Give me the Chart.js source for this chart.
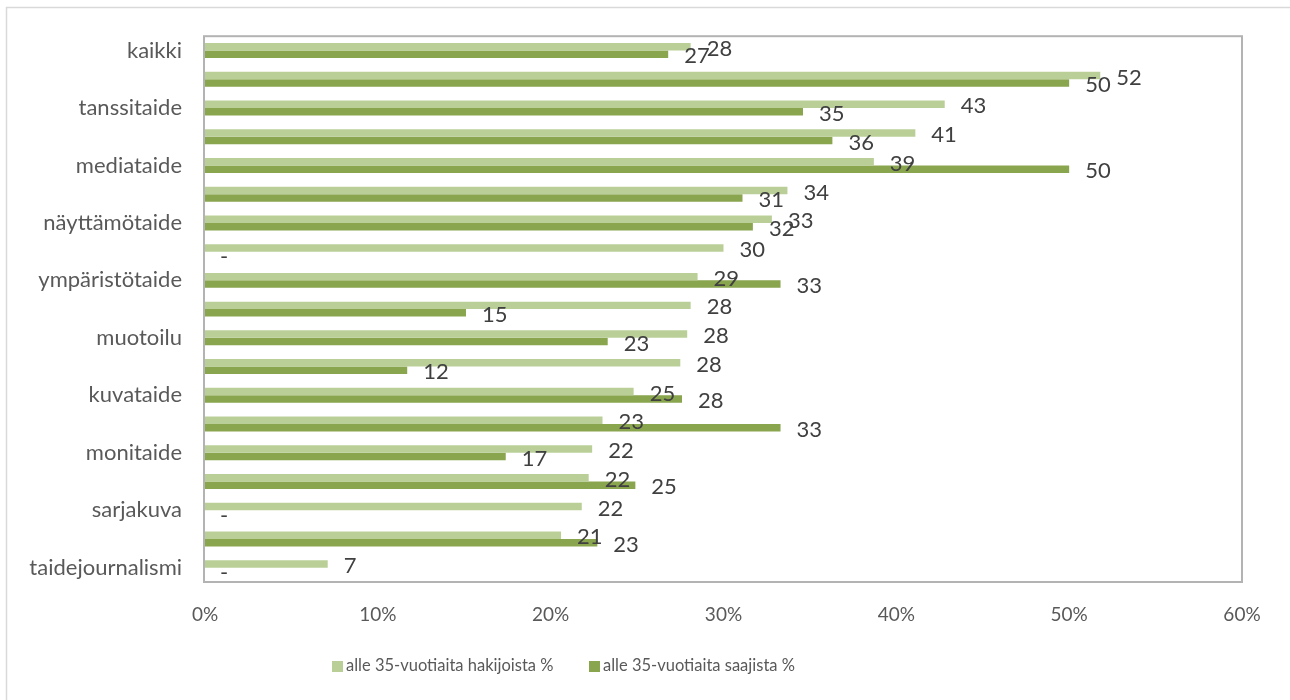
<!DOCTYPE html>
<html>
<head>
<meta charset="utf-8">
<script src="https://cdn.jsdelivr.net/npm/chart.js@4"></script>
<style>
 html, body { margin: 0; padding: 0; background: #fff; }
 #wrap { width: 1290px; height: 700px; position: relative; }
</style>
</head>
<body>
<div id="wrap"><canvas id="chart" width="1290" height="700"></canvas></div>
<script>
// every other category name is hidden in the original (Excel skipped them)
const categories = ['kaikki', '', 'tanssitaide', '', 'mediataide', '', 'näyttämötaide', '',
 'ympäristötaide', '', 'muotoilu', '', 'kuvataide', '', 'monitaide', '', 'sarjakuva', '', 'taidejournalismi'];
const seriesNames = ['alle 35-vuotiaita hakijoista %', 'alle 35-vuotiaita saajista %'];
const applicants = [28.1, 51.8, 42.8, 41.1, 38.7, 33.7, 32.8, 30.0, 28.5, 28.1,
 27.9, 27.5, 24.8, 23.0, 22.4, 22.2, 21.8, 20.6, 7.1];
const recipients = [26.8, 50.0, 34.6, 36.3, 50.0, 31.1, 31.7, null, 33.3, 15.1,
 23.3, 11.7, 27.6, 33.3, 17.4, 24.9, null, 22.7, null];
const xTicks = [0, 10, 20, 30, 40, 50, 60];

const lightGreen = '#bacf98';
const darkGreen = '#89a54e';
const font = 'Lato, "Open Sans", sans-serif';

const frame = {
 id: 'frame',
 beforeDraw(chart) {
  const ctx = chart.ctx;
  ctx.save();
  ctx.strokeStyle = '#d9d9d9';
  ctx.lineWidth = 1.5;
  ctx.strokeRect(6.5, 7.5, 1400, 800);
  ctx.restore();
 },
 afterDraw(chart) {
  const a = chart.chartArea, ctx = chart.ctx;
  ctx.save();
  ctx.strokeStyle = '#b3b3b3';
  ctx.lineWidth = 2;
  ctx.strokeRect(a.left - 1, a.top, a.right - a.left + 1, a.bottom - a.top);
  // legend
  const colors = [lightGreen, darkGreen];
  const xs = [332, 589];
  ctx.font = '16.5px ' + font;
  ctx.textBaseline = 'middle';
  ctx.textAlign = 'left';
  seriesNames.forEach((name, i) => {
   ctx.fillStyle = colors[i];
   ctx.fillRect(xs[i], 661, 11, 11);
   ctx.fillStyle = '#595959';
   ctx.fillText(name, xs[i] + 14, 666);
  });
  ctx.restore();
 }
};

const valueLabels = {
 id: 'valueLabels',
 afterDatasetsDraw(chart) {
  const ctx = chart.ctx;
  const zero = chart.scales.x.getPixelForValue(0);
  ctx.save();
  ctx.font = '22px ' + font;
  ctx.fillStyle = '#404040';
  ctx.textBaseline = 'middle';
  ctx.textAlign = 'left';
  chart.data.datasets.forEach((ds, di) => {
   const meta = chart.getDatasetMeta(di);
   meta.data.forEach((bar, i) => {
    const v = ds.data[i];
    if (v === null) {
     ctx.fillText('-', zero + 15, bar.y + 2);
    } else {
     ctx.fillText(String(Math.round(v)), bar.x + 16, bar.y + 2);
    }
   });
  });
  ctx.restore();
 }
};

new Chart(document.getElementById('chart').getContext('2d'), {
 type: 'bar',
 data: {
  labels: categories,
  datasets: [
   { label: seriesNames[0], data: applicants, backgroundColor: lightGreen },
   { label: seriesNames[1], data: recipients, backgroundColor: darkGreen }
  ]
 },
 options: {
  indexAxis: 'y',
  responsive: false,
  animation: false,
  categoryPercentage: 0.52,
  barPercentage: 1.0,
  layout: { padding: { left: 0, top: 36, right: 48, bottom: 68 } },
  plugins: { legend: { display: false }, tooltip: { enabled: false } },
  scales: {
   x: {
    min: 0, max: 60,
    afterBuildTicks: (s) => { s.ticks = xTicks.map(v => ({ value: v })); },
    afterFit: (s) => { s.height = 50; },
    grid: { display: false, drawTicks: false },
    border: { display: false },
    ticks: {
     padding: 21,
     color: '#595959',
     font: { family: font, size: 19 },
     callback: (v) => v + '%'
    }
   },
   y: {
    afterFit: (s) => { s.width = 205; },
    grid: { display: false, drawTicks: false },
    border: { display: false },
    ticks: {
     autoSkip: false,
     padding: 23,
     color: '#595959',
     font: { family: font, size: 22 }
    }
   }
  }
 },
 plugins: [frame, valueLabels]
});
</script>
</body>
</html>
